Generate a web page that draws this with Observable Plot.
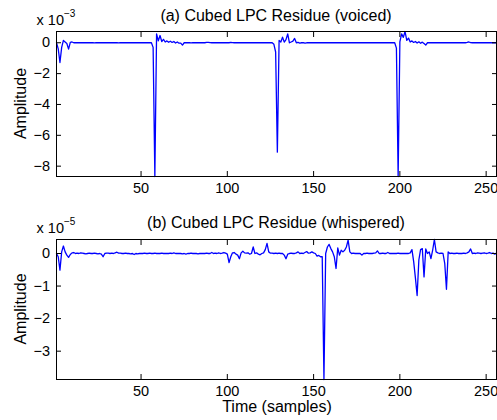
<!DOCTYPE html>
<html><head><meta charset="utf-8">
<script src="https://cdn.jsdelivr.net/npm/d3@7"></script>
<script src="https://cdn.jsdelivr.net/npm/@observablehq/plot@0.6"></script>
<style>
body{margin:0;background:#fff;}
#c{position:relative;width:497px;height:420px;font-family:"Liberation Sans",Arial,Helvetica,sans-serif;background:#fff;}
#c svg{display:block;}
</style></head><body><div id="c"></div>
<script>
const sampleIndex = d3.range(1, 257);
const voiced = [
 0, -0.4, -1.28, -0.3, 0.15, 0.05, -0.05, -0.41, 0.02, 0.05, 0, 0.01, 0, 0, 0.01, 0,
 0, 0, 0.01, 0, 0, 0, -0.01, 0, 0, 0.01, 0, 0, 0, 0, 0, 0.01,
 0, 0, 0, 0, -0.01, 0, 0, 0, 0, 0.01, 0, 0, 0, 0, 0, 0,
 0, 0.01, 0, 0, 0, 0, 0, 0, -0.3, -8.67, 0.58, 0.12, 0.47, 0.08, 0.22, 0.05,
 0.12, 0.03, 0.1, 0.02, 0.08, -0.02, 0.05, -0.03, -0.02, -0.15, 0, 0.01, 0, 0, -0.01, 0,
 0, 0, 0, 0, 0.01, 0, 0, 0.02, 0.03, 0.01, 0, 0, 0, 0, 0, 0,
 0, 0, 0.01, 0, 0, 0.02, 0.01, 0, 0, 0, 0, 0, 0, 0, 0.01, 0,
 0, 0, 0, 0, 0, 0, 0, 0, 0, 0, 0, 0, 0, 0, -0.1, -0.6,
 -7.09, 0.15, 0.05, 0.36, 0.04, 0.2, 0.58, 0, 0.05, 0.1, 0.28, 0, 0.02, -0.02, 0, 0.01,
 -0.03, 0, 0, 0, 0, 0.01, 0, 0, 0, 0, 0, 0, 0, 0, 0, 0,
 0, 0, 0, 0, 0.01, 0, 0, 0, 0, 0, 0, 0, 0, 0, 0, 0,
 0, 0, 0, 0.01, 0, 0, 0, 0, 0, 0, 0, 0, 0, 0, 0, 0,
 0, 0, 0, 0, 0, -0.35, -8.67, 0.05, 0.58, 0.35, 0.73, 0.15, 0.3, 0.05, 0.12, 0.02,
 0.08, -0.02, 0.06, -0.03, 0.04, -0.05, -0.15, 0, 0.01, 0, 0, 0, 0, 0, 0, 0,
 0, 0, 0, 0, 0, 0, 0, 0, 0, 0, 0.01, 0, 0, 0, 0.02, 0.05,
 0.01, 0, 0, 0, 0, 0, 0, 0, 0, 0, 0, 0, 0, 0, 0, 0
];
const whispered = [
 0, -0.1, -0.51, 0.05, 0.23, 0.05, -0.05, -0.12, -0.03, 0.02, 0.03, 0, 0.01, 0, 0.02, 0.01,
 0, -0.01, 0, 0.01, 0, 0, 0.01, 0, -0.01, 0, -0.02, -0.1, 0, 0.01, 0.01, 0,
 0.01, 0, 0.02, 0.04, 0.01, 0.01, 0, 0, 0.01, 0, 0, -0.01, 0, -0.03, 0, -0.01,
 0, 0, 0, 0.01, 0, 0, 0.01, 0, 0, 0.01, 0, 0, 0, 0.01, 0, 0,
 0, 0, 0.01, 0, 0.02, 0, 0, 0, 0, -0.01, 0, -0.02, 0, 0, 0.01, 0,
 0, 0, -0.01, 0, 0, 0, 0, 0.01, 0, 0, 0.03, 0, 0.01, 0, 0.02, 0,
 0.01, 0.03, 0.01, -0.02, -0.28, -0.1, 0.02, 0.03, -0.02, -0.05, -0.16, 0.02, 0.07, 0.02, 0.01, 0.02,
 -0.02, 0, 0.2, 0, 0.02, -0.02, -0.04, 0, 0.02, 0.12, 0.31, 0.05, 0.01, 0.01, 0, 0.01,
 0, 0.01, 0, 0, -0.05, -0.16, -0.02, 0, 0.01, 0, 0, 0.02, 0.05, 0, 0.01, 0,
 0.03, 0.06, 0.01, 0.02, 0.05, 0.02, 0, -0.08, -0.06, -0.1, -0.1, -3.87, 0, 0.2, 0.28, 0.15,
 0.05, -0.1, -0.46, 0.17, -0.05, 0.1, 0.05, 0.1, 0.2, 0.41, 0.05, 0, 0.01, 0, 0, 0,
 0, -0.05, 0, 0, 0.01, 0, 0, 0, 0.01, 0.02, 0.08, 0, 0, 0.01, 0, 0,
 0.03, 0, 0, 0, 0, 0, 0.01, 0, 0, 0, 0, 0, 0, 0.02, 0.12, -0.25,
 -0.75, -1.29, -0.2, 0.12, 0.15, -0.72, 0.14, 0, 0.05, -0.16, 0.1, 0.43, 0.05, 0.02, 0, 0.01,
 0, -0.3, -1.1, 0.05, 0, 0.01, 0, 0, 0.01, 0, 0, 0, 0.01, 0, 0.02, 0.05,
 0.14, 0, 0.01, 0, 0.02, 0.01, 0, 0.01, 0.02, 0, 0.01, 0.03, 0, 0.01, -0.02, 0.01
];
const xTicks = [50, 100, 150, 200, 250];
const yTicksVoiced = [0, -2, -4, -6, -8];
const yTicksWhispered = [0, -1, -2, -3];
const titles = ["(a) Cubed LPC Residue (voiced)", "(b) Cubed LPC Residue (whispered)"];
const exponents = ["−3", "−5"];
const yLabel = "Amplitude";
const xLabel = "Time (samples)";

const FONT = '"Liberation Sans", Arial, Helvetica, sans-serif';
const fmt = d => d < 0 ? "\u2212" + (-d) : String(d);

function panel(values, yTicks, title, exponent, o) {
  const data = sampleIndex.map((x, i) => ({x, y: values[i]}));
  const svg = Plot.plot({
    width: 497, height: 210,
    marginLeft: 56, marginRight: 1, marginTop: o.mt, marginBottom: o.mb,
    style: {fontFamily: FONT, fontSize: "14.5px", color: "black", background: "transparent", overflow: "visible"},
    x: {domain: [1, 256]},
    y: {domain: d3.extent(values)},
    marks: [
      Plot.lineY(data, {x: "x", y: "y", stroke: "#0000ff", strokeWidth: 1.3}),
      Plot.axisX(xTicks, {anchor: "bottom", tickSize: -5, tickFormat: () => "", label: null}),
      Plot.axisX(xTicks, {anchor: "top", tickSize: -5, tickFormat: () => "", label: null}),
      Plot.axisX(xTicks, {anchor: "bottom", tickSize: 0, tickPadding: 6, label: null, fontSize: 14.5}),
      Plot.axisY(yTicks, {anchor: "left", tickSize: -5, tickFormat: () => "", label: null}),
      Plot.axisY(yTicks, {anchor: "right", tickSize: -5, tickFormat: () => "", label: null}),
      Plot.axisY(yTicks, {anchor: "left", tickSize: 0, tickPadding: 6.5, tickFormat: fmt, label: null, fontSize: 14.5}),
      Plot.frame({stroke: "black"})
    ]
  });
  const s = d3.select(svg);
  const cy = (o.mt + (210 - o.mb)) / 2;
  s.append("text").attr("x", 276).attr("y", o.titleY).attr("text-anchor", "middle")
    .style("font-size", "16px").attr("fill", "black").text(title);
  const e = s.append("text").attr("x", 56).attr("y", o.expY).style("font-size", "14.5px").attr("fill", "black");
  e.append("tspan").text("x 10");
  e.append("tspan").attr("dy", -8).style("font-size", "10px").text(exponent);
  s.append("text").attr("transform", `translate(26,${cy}) rotate(-90)`).attr("text-anchor", "middle")
    .style("font-size", "16px").attr("fill", "black").text(yLabel);
  if (o.xlab) {
    s.append("text").attr("x", 277).attr("y", o.xlabY).attr("text-anchor", "middle")
      .style("font-size", "16px").attr("fill", "black").text(xLabel);
  }
  return svg;
}

const c = document.getElementById("c");
c.appendChild(panel(voiced, yTicksVoiced, titles[0], exponents[0], {mt: 31, mb: 34, titleY: 21, expY: 25}));
c.appendChild(panel(whispered, yTicksWhispered, titles[1], exponents[1], {mt: 29, mb: 41, titleY: 18.3, expY: 23.3, xlab: true, xlabY: 201.7}));
</script></body></html>
